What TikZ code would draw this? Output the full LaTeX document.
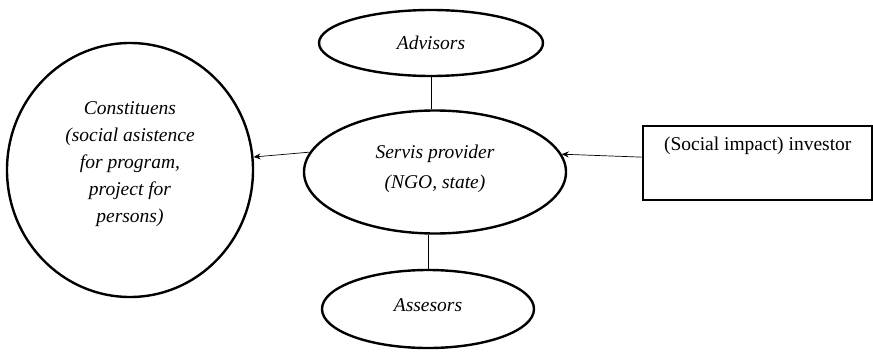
\documentclass[tikz,border=0pt]{standalone}
\usepackage{fontspec}
\setmainfont{Liberation Serif}
\usetikzlibrary{shapes.geometric,arrows.meta}
\begin{document}
\begin{tikzpicture}[x=1pt,y=-1pt,
  oval/.style={ellipse,draw,line width=2.4pt,inner sep=0pt,align=center,
    font=\fontsize{19.5}{27}\selectfont\itshape},
  investorbox/.style={rectangle,draw,line width=2.4pt,inner sep=0pt,
    font=\fontsize{19.5}{22}\selectfont},
  link/.style={line width=0.7pt},
  flow/.style={line width=0.7pt,-{Stealth[length=7pt,width=6pt]}}]
\useasboundingbox (0,0) rectangle (873,351);
% actors
\node[oval,minimum width=246,minimum height=254] (const) at (130,170)
  {Constituens\\(social asistence\\for program,\\project for\\persons)\\[-11pt]};
\node[oval,minimum width=224,minimum height=66] (adv) at (431,43) {Advisors};
\node[oval,minimum width=262,minimum height=123] (serv) at (435,172)
  {Servis provider\\[3pt](NGO, state)\\[-17pt]};
\node[oval,minimum width=212,minimum height=78] (ass) at (428,309) {Assesors\\[-19pt]};
\node[investorbox,minimum width=229,minimum height=74,anchor=north west,
  text height=24pt,text depth=50pt] (inv) at (642,125) {(Social impact) investor};
% relations
\draw[link] (adv.south) -- (adv.south |- serv.north);
\draw[link] (ass.north) -- (ass.north |- serv.south);
\draw[flow] (serv.171) -- (const.6);
\draw[flow] (inv.177.5) -- (serv.8);
\end{tikzpicture}
\end{document}
